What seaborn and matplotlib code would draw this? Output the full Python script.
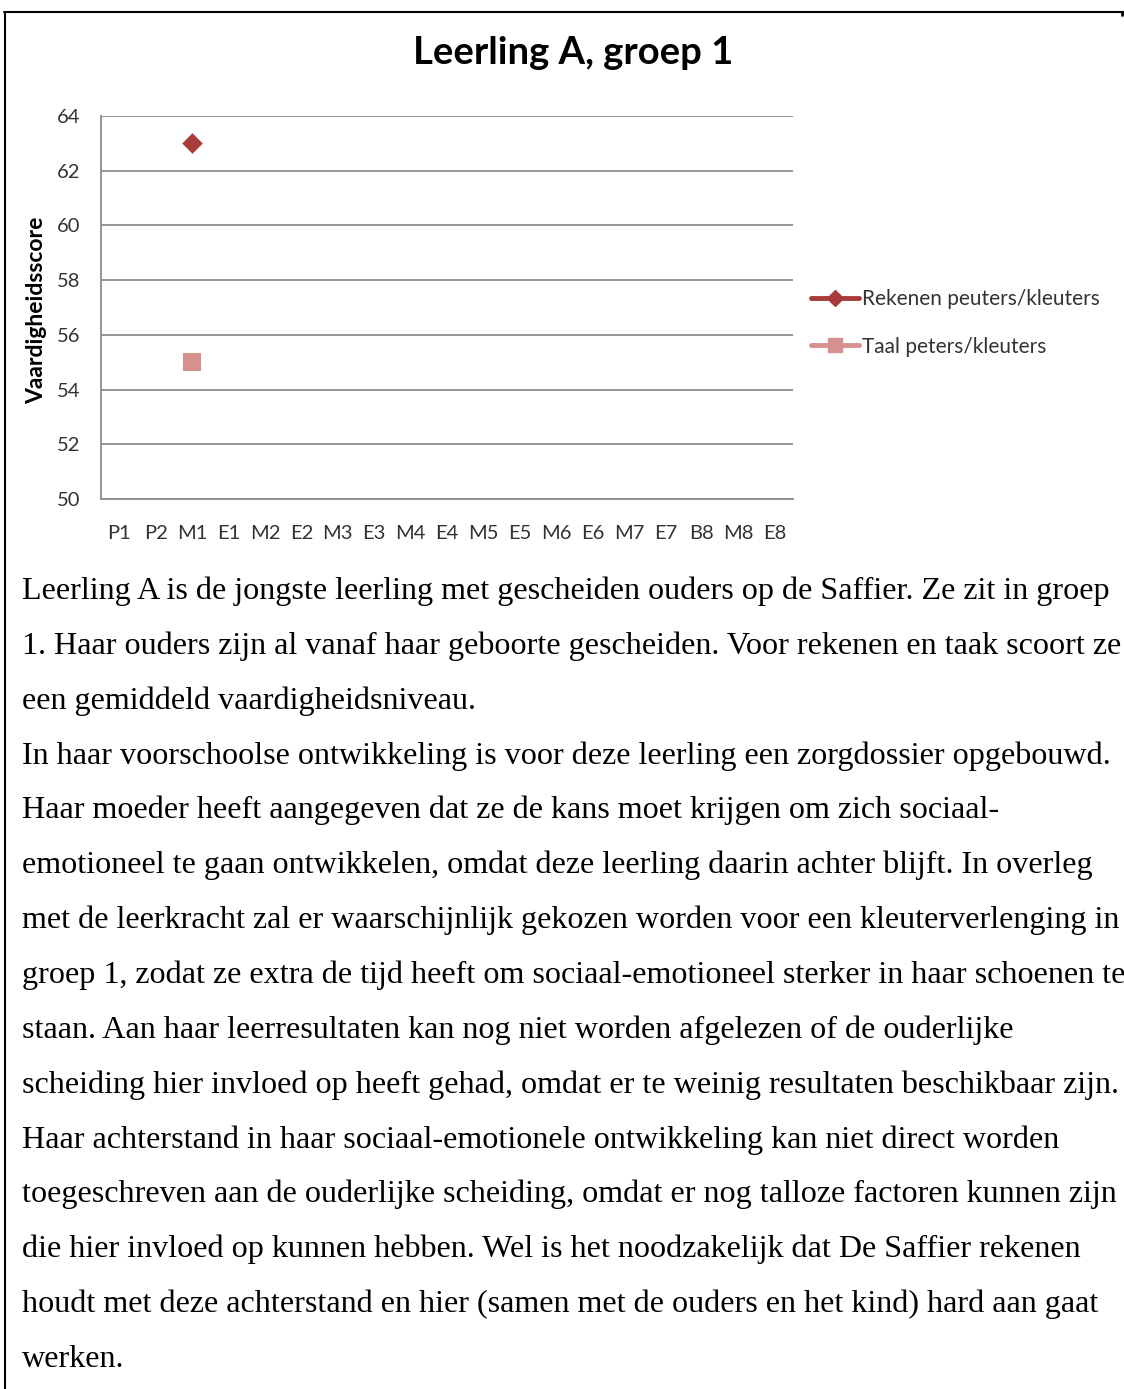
import numpy as np
import pandas as pd
import matplotlib.pyplot as plt
from matplotlib.lines import Line2D
import seaborn as sns

# data
periods = ['P1', 'P2', 'M1', 'E1', 'M2', 'E2', 'M3', 'E3', 'M4', 'E4',
           'M5', 'E5', 'M6', 'E6', 'M7', 'E7', 'B8', 'M8', 'E8']
series_names = ['Rekenen peuters/kleuters', 'Taal peters/kleuters']
series_periods = ['M1', 'M1']
series_scores = [63, 55]
series_colors = ['#A83C3A', '#D6918F']
series_markers = ['D', 's']
series_msize = [10.5, 13.0]
y_ticks = [50, 52, 54, 56, 58, 60, 62, 64]

title = 'Leerling A, groep 1'
y_label = 'Vaardigheidsscore'

body_lines = [
    'Leerling A is de jongste leerling met gescheiden ouders op de Saffier. Ze zit in groep',
    '1. Haar ouders zijn al vanaf haar geboorte gescheiden. Voor rekenen en taak scoort ze',
    'een gemiddeld vaardigheidsniveau.',
    'In haar voorschoolse ontwikkeling is voor deze leerling een zorgdossier opgebouwd.',
    'Haar moeder heeft aangegeven dat ze de kans moet krijgen om zich sociaal-',
    'emotioneel te gaan ontwikkelen, omdat deze leerling daarin achter blijft. In overleg',
    'met de leerkracht zal er waarschijnlijk gekozen worden voor een kleuterverlenging in',
    'groep 1, zodat ze extra de tijd heeft om sociaal-emotioneel sterker in haar schoenen te',
    'staan. Aan haar leerresultaten kan nog niet worden afgelezen of de ouderlijke',
    'scheiding hier invloed op heeft gehad, omdat er te weinig resultaten beschikbaar zijn.',
    'Haar achterstand in haar sociaal-emotionele ontwikkeling kan niet direct worden',
    'toegeschreven aan de ouderlijke scheiding, omdat er nog talloze factoren kunnen zijn',
    'die hier invloed op kunnen hebben. Wel is het noodzakelijk dat De Saffier rekenen',
    'houdt met deze achterstand en hier (samen met de ouders en het kind) hard aan gaat',
    'werken.',
]

df = pd.DataFrame({'reeks': series_names, 'periode': series_periods, 'score': series_scores})
df['pos'] = df['periode'].map(periods.index)

sns.set_theme(style='white')
plt.rcParams['font.family'] = ['Lato', 'DejaVu Sans']

W, H = 1124, 1389
fig = plt.figure(figsize=(W / 100, H / 100), dpi=100)


def fx(px):
    return px / W


def fy(py):
    return 1 - py / H


# page border (top and left)
fig.add_artist(Line2D([fx(4), fx(1124)], [fy(12), fy(12)], color='black', lw=1.5))
fig.add_artist(Line2D([fx(5), fx(5)], [fy(12), fy(1389)], color='black', lw=1.5))
fig.add_artist(Line2D([fx(1122), fx(1122)], [fy(12), fy(15)], color='black', lw=2))

ax = fig.add_axes([fx(101), fy(499), fx(793) - fx(101), (499 - 116) / H])

for name, color, mk, ms in zip(series_names, series_colors, series_markers, series_msize):
    sub = df[df['reeks'] == name]
    sns.scatterplot(data=sub, x='pos', y='score', ax=ax, color=color, marker=mk,
                    s=ms ** 2, linewidth=0, legend=False, zorder=3)

ax.set_xlim(-0.5, len(periods) - 0.5)
ax.set_ylim(50, 64)
ax.set_yticks(y_ticks)
ax.set_xticks(range(len(periods)))
ax.set_xticklabels(periods)
ax.yaxis.grid(True, color='#8C8C8C', lw=1.3)
ax.set_axisbelow(True)
ax.tick_params(axis='both', length=0, labelsize=14.5, colors='#333333')
ax.tick_params(axis='x', pad=18.5)
ax.tick_params(axis='y', pad=15)
for side in ['top', 'right']:
    ax.spines[side].set_visible(False)
for side in ['left', 'bottom']:
    ax.spines[side].set_color('#8C8C8C')
    ax.spines[side].set_linewidth(1.3)
ax.set_xlabel('')
ax.set_ylabel('')

fig.text(fx(37), fy(310), y_label, rotation=90, ha='center', va='center',
         fontsize=16.5, fontweight='bold', color='black')
fig.text(fx(573), fy(53), title, ha='center', va='center',
         fontsize=27.5, fontweight='bold', color='black')

handles = [Line2D([], [], color=c, marker=m, markersize=s * 0.8, lw=3.5)
           for c, m, s in zip(series_colors, series_markers, series_msize)]
fig.legend(handles, series_names, loc='center left',
           bbox_to_anchor=(fx(811), fy(323)), frameon=False,
           borderpad=0, borderaxespad=0,
           fontsize=15, handlelength=2.3, handletextpad=0.15,
           labelspacing=1.3, labelcolor='#333333')

# body text below the chart
for i, line in enumerate(body_lines):
    fig.text(fx(22), fy(599 + i * 54.86), line, ha='left', va='baseline',
             fontsize=23.1, family=['Liberation Serif', 'DejaVu Serif'], color='black')

fig.savefig('out.png', dpi=100)
